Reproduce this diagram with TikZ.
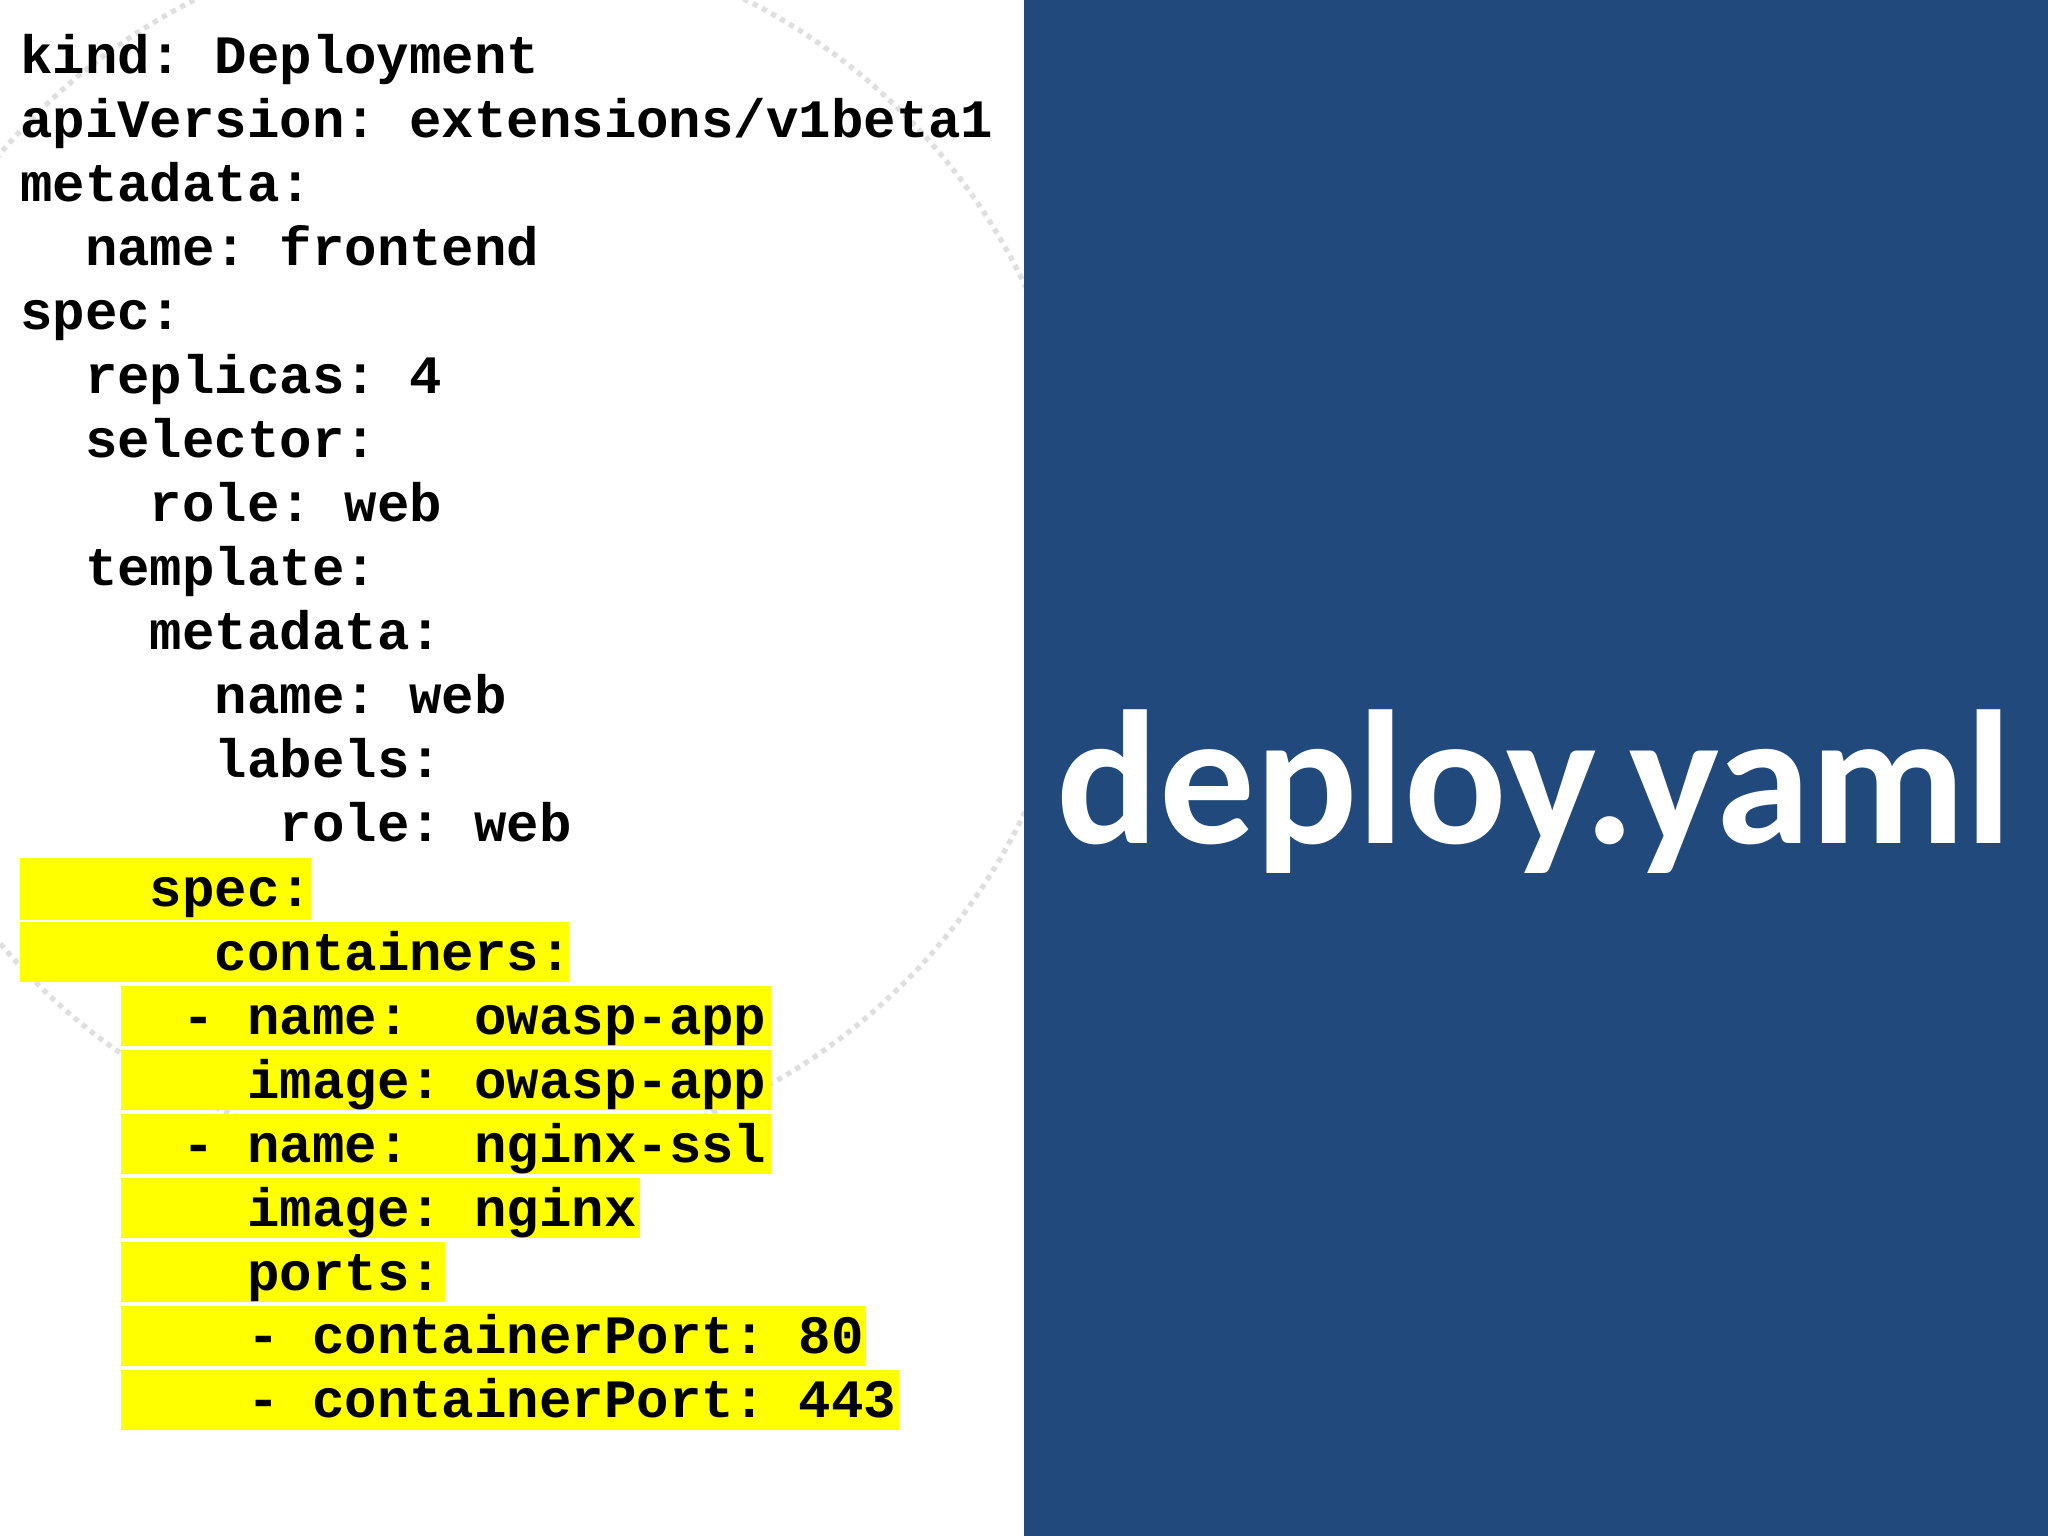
\documentclass[tikz,border=0pt]{standalone}
\usepackage{fontspec}
\setmonofont{Liberation Mono}
\newfontfamily\titlefont{Carlito}
\definecolor{panel}{HTML}{21497C}
\definecolor{hl}{HTML}{FFFF00}
\begin{document}
\begin{tikzpicture}[x=0.5pt,y=-0.5pt,
  code/.style={anchor=base west,inner sep=0pt,font=\ttfamily\bfseries\fontsize{20.7pt}{20.7pt}\selectfont},
  hlbox/.style={fill=hl,draw=none}]
\useasboundingbox (0,0) rectangle (1568,1176);
\fill[white] (0,0) rectangle (784,1176);
\begin{scope}
\clip (0,0) rectangle (784,1176);
\draw[gray!25,dotted,line width=2pt] (360,420) circle[radius=470];
\end{scope}
\fill[panel] (784,0) rectangle (1568,1176);
% highlights
\fill[hlbox] (15,657) rectangle (238,704);
\fill[hlbox] (15,706) rectangle (436,752);
\fill[hlbox] (93,755) rectangle (590,801);
\fill[hlbox] (93,804) rectangle (590,850);
\fill[hlbox] (93,853) rectangle (590,899);
\fill[hlbox] (93,902) rectangle (490,948);
\fill[hlbox] (93,951) rectangle (341,997);
\fill[hlbox] (93,1000) rectangle (663,1046);
\fill[hlbox] (93,1049) rectangle (688,1095);
% code
\node[code] (l1) at (15,56) {kind: Deployment};
\node[code] (l2) at (15,105) {apiVersion: extensions/v1beta1};
\node[code] (l3) at (15,154) {metadata:};
\node[code] (l4) at (15,203) {\ \ name: frontend};
\node[code] (l5) at (15,252) {spec:};
\node[code] (l6) at (15,301) {\ \ replicas: 4};
\node[code] (l7) at (15,350) {\ \ selector:};
\node[code] (l8) at (15,399) {\ \ \ \ role: web};
\node[code] (l9) at (15,448) {\ \ template:};
\node[code] (l10) at (15,497) {\ \ \ \ metadata:};
\node[code] (l11) at (15,546) {\ \ \ \ \ \ name: web};
\node[code] (l12) at (15,595) {\ \ \ \ \ \ labels:};
\node[code] (l13) at (15,644) {\ \ \ \ \ \ \ \ role: web};
\node[code] (l14) at (15,694) {\ \ \ \ spec:};
\node[code] (l15) at (15,743) {\ \ \ \ \ \ containers:};
\node[code] (l16) at (15,792) {\ \ \ \ \ - name:\ \ owasp-app};
\node[code] (l17) at (15,841) {\ \ \ \ \ \ \ image: owasp-app};
\node[code] (l18) at (15,890) {\ \ \ \ \ - name:\ \ nginx-ssl};
\node[code] (l19) at (15,939) {\ \ \ \ \ \ \ image: nginx};
\node[code] (l20) at (15,988) {\ \ \ \ \ \ \ ports:};
\node[code] (l21) at (15,1036) {\ \ \ \ \ \ \ - containerPort: 80};
\node[code] (l22) at (15,1085) {\ \ \ \ \ \ \ - containerPort: 443};
% title
\node[anchor=base,inner sep=0pt,text=white,font=\titlefont\bfseries\fontsize{73pt}{73pt}\selectfont] (title) at (1175,646) {deploy.yaml};
\end{tikzpicture}
\end{document}
